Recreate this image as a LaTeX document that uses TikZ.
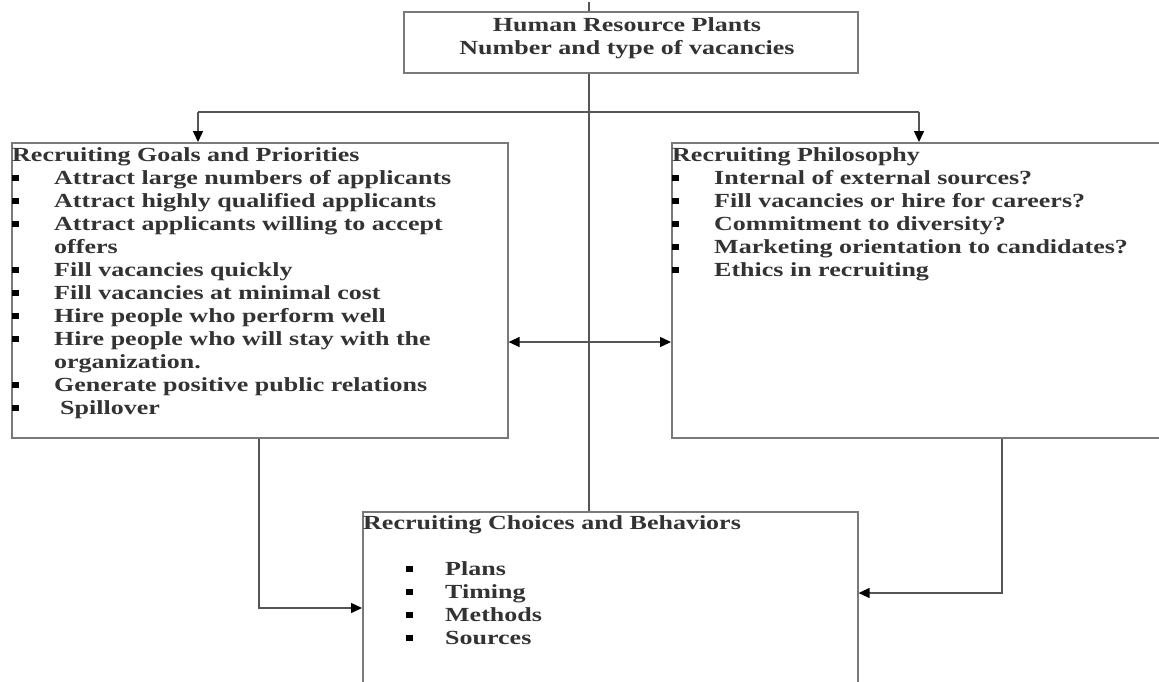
\documentclass[tikz,border=0pt]{standalone}
\usepackage{fontspec}
\setmainfont{Liberation Serif}[FakeStretch=1.3]
\usetikzlibrary{arrows.meta}
\definecolor{txtc}{HTML}{333333}
\definecolor{boxc}{HTML}{7A7A7A}
\definecolor{linec}{HTML}{555555}
\newcommand{\bul}{\textcolor{black}{\rule[3pt]{7pt}{6pt}}}
\begin{document}
\begin{tikzpicture}[x=1pt,y=-1pt,
  box/.style={draw=boxc, line width=1.6pt, fill=white, rectangle, inner sep=0pt, anchor=north west},
  txt/.style={inner sep=0pt, text=txtc, font=\fontsize{20}{23}\selectfont\bfseries},
  conn/.style={draw=linec, line width=1.5pt},
  arr/.style={conn, -{Triangle[length=11pt,width=10pt,color=black]}},
  darr/.style={conn, {Triangle[length=11pt,width=10pt,color=black]}-{Triangle[length=11pt,width=10pt,color=black]}},
]
\useasboundingbox (0,0) rectangle (1159,681);

% boxes
\node[box, minimum width=454pt, minimum height=61pt] (hr) at (403,11) {};
\node[box, minimum width=496pt, minimum height=295pt] (gl) at (11,142) {};
\node[box, minimum width=500pt, minimum height=295pt] (ph) at (671,142) {};
\node[box, minimum width=495pt, minimum height=200pt] (bc) at (362,511) {};

% texts
\node[txt, anchor=base] (hrt) at (627,31) {\begin{tabular}[t]{@{}c@{}}Human Resource Plants\\Number and type of vacancies\end{tabular}};

\node[txt, anchor=base west] (glt) at (12,161) {\begin{tabular}[t]{@{}p{42pt}@{}l@{}}
\multicolumn{2}{@{}l@{}}{Recruiting Goals and Priorities}\\
\bul & Attract large numbers of applicants\\
\bul & Attract highly qualified applicants\\
\bul & Attract applicants willing to accept\\
 & offers\\
\bul & Fill vacancies quickly\\
\bul & Fill vacancies at minimal cost\\
\bul & Hire people who perform well\\
\bul & Hire people who will stay with the\\
 & organization.\\
\bul & Generate positive public relations\\
\bul & \hspace{6pt}Spillover
\end{tabular}};

\node[txt, anchor=base west] (pht) at (672,161) {\begin{tabular}[t]{@{}p{42pt}@{}l@{}}
\multicolumn{2}{@{}l@{}}{Recruiting Philosophy}\\
\bul & Internal of external sources?\\
\bul & Fill vacancies or hire for careers?\\
\bul & Commitment to diversity?\\
\bul & Marketing orientation to candidates?\\
\bul & Ethics in recruiting
\end{tabular}};

\node[txt, anchor=base west] (bct) at (363,529) {\begin{tabular}[t]{@{}p{43pt}@{}p{39pt}@{}l@{}}
\multicolumn{3}{@{}l@{}}{Recruiting Choices and Behaviors}\\
 & & \\
 & \bul & Plans\\
 & \bul & Timing\\
 & \bul & Methods\\
 & \bul & Sources
\end{tabular}};

% connectors
\coordinate (topend) at (589,2);
\coordinate (jl) at (198,112);
\coordinate (jr) at (919,112);
\coordinate (da) at (589,342);
\coordinate (lbend) at (259,608);
\coordinate (rbend) at (1002,593);

\draw[conn] (topend) -- (hr.north -| topend);
\draw[conn] (hr.south -| topend) -- (bc.north -| topend);
\draw[conn] (jl) -- (jr);
\draw[arr] (jl) -- (jl |- gl.north);
\draw[arr] (jr) -- (jr |- ph.north);
\draw[darr] (gl.east |- da) -- (ph.west |- da);
\draw[arr] (gl.south -| lbend) |- (bc.west |- lbend);
\draw[arr] (ph.south -| rbend) |- (bc.east |- rbend);
\end{tikzpicture}
\end{document}
